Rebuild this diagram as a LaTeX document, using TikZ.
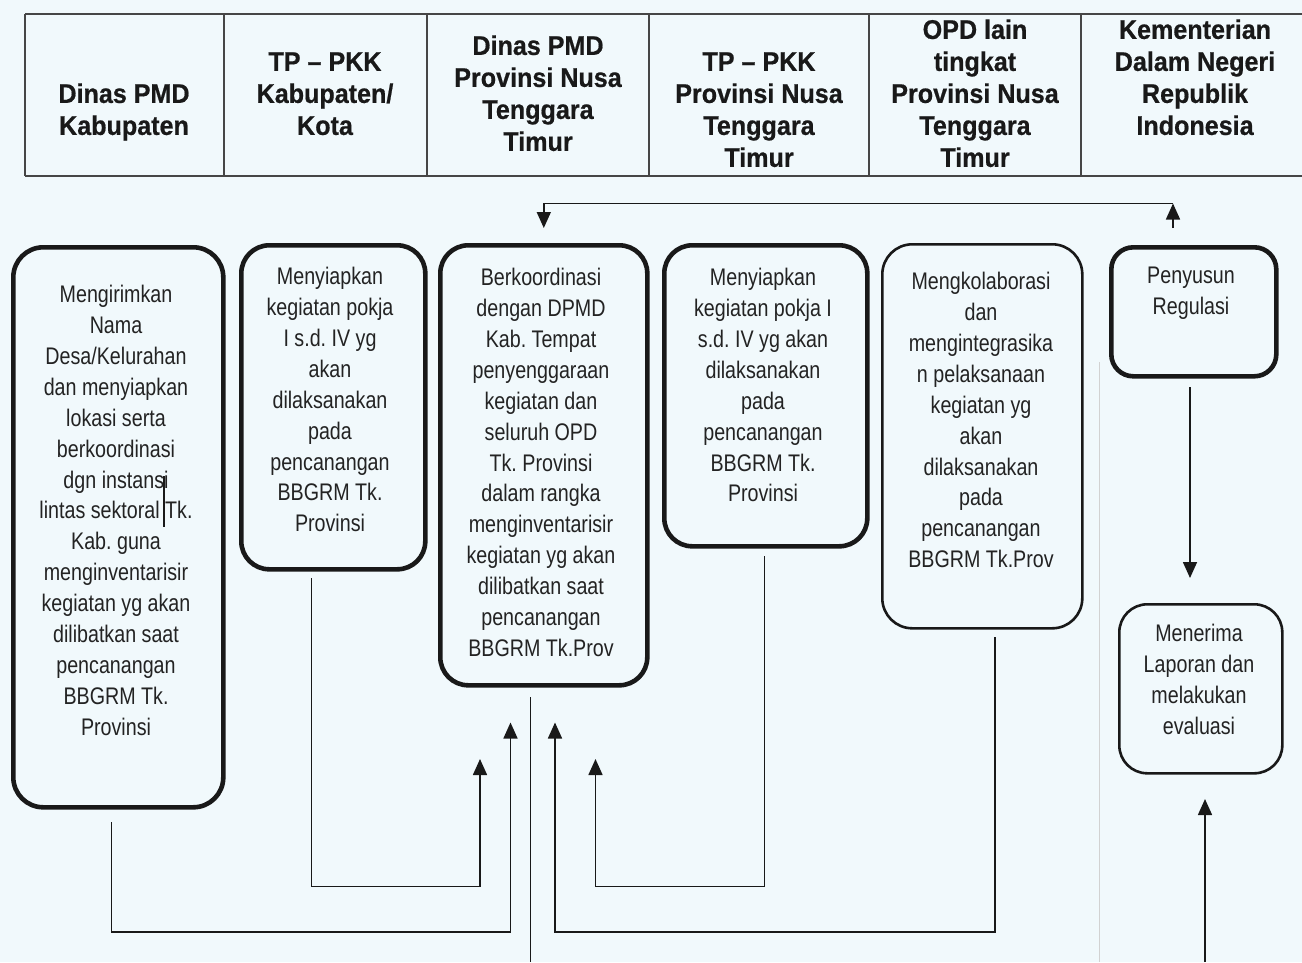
\documentclass[tikz,border=0pt]{standalone}
\usepackage{fontspec}
\usetikzlibrary{arrows.meta}
\newfontfamily\hdrfont[FakeStretch=0.93,FakeBold=0.6]{Liberation Sans}
\newfontfamily\bodyfont[FakeStretch=0.82]{Liberation Sans}
\definecolor{bg}{RGB}{241,249,252}
\definecolor{ink}{RGB}{25,25,25}
\definecolor{txt}{RGB}{35,35,35}
\definecolor{rule}{RGB}{70,70,70}
\frenchspacing
\begin{document}
\frenchspacing
\begin{tikzpicture}[x=1pt,y=-1pt,
  hdr/.style={font=\hdrfont\bfseries\fontsize{27}{32}\selectfont, text=ink, align=center, anchor=north, inner sep=0pt},
  body/.style={font=\bodyfont\fontsize{24}{30.9}\selectfont, text=txt, align=center, anchor=north, inner sep=0pt},
  box/.style={draw=ink, line width=4.6pt, rounded corners=28pt, anchor=north west, inner sep=0pt},
  thinbox/.style={box, line width=2.6pt},
  hline/.style={draw=rule, line width=1.3pt},
  conn/.style={draw=ink, line width=1.6pt},
  tip/.style={-{Triangle[length=16pt,width=14pt]}}]
\useasboundingbox[fill=bg] (0,0) rectangle (1302,962);
% header table
\draw[hline] (25,14) -- (1302,14);
\draw[hline] (25,176) -- (1302,176);
\foreach \x in {25,224,427,649,869,1081} \draw[hline] (\x,14) -- (\x,176);
\node[hdr] (h1) at (124,80.3) {\strut Dinas PMD\\Kabupaten};
\node[hdr] (h2) at (325,48.3) {\strut TP – PKK\\Kabupaten/\\Kota};
\node[hdr] (h3) at (538,32.3) {\strut Dinas PMD\\Provinsi Nusa\\Tenggara\\Timur};
\node[hdr] (h4) at (759,48.3) {\strut TP – PKK\\Provinsi Nusa\\Tenggara\\Timur};
\node[hdr] (h5) at (975,16.3) {\strut OPD lain\\tingkat\\Provinsi Nusa\\Tenggara\\Timur};
\node[hdr] (h6) at (1195,16.3) {\strut Kementerian\\Dalam Negeri\\Republik\\Indonesia};
% boxes
\node[box, minimum width=210pt, minimum height=560pt, rounded corners=30pt] (b1) at (11,245) {};
\node[box, minimum width=184pt, minimum height=324pt] (b2) at (239,243) {};
\node[box, minimum width=207pt, minimum height=440pt] (b3) at (438,243) {};
\node[box, minimum width=203pt, minimum height=301pt] (b4) at (662,243) {};
\node[thinbox, minimum width=200pt, minimum height=384pt, rounded corners=30pt] (b5) at (881,243) {};
\node[box, minimum width=165pt, minimum height=129pt, rounded corners=22pt] (b6) at (1109,245) {};
\node[thinbox, minimum width=163pt, minimum height=169pt] (b7) at (1118,603) {};
% texts
\node[body] (t1) at (116,280.8) {\strut Mengirimkan\\Nama\\Desa/Kelurahan\\dan menyiapkan\\lokasi serta\\berkoordinasi\\dgn instansi\\lintas sektoral Tk.\\Kab. guna\\menginventarisir\\kegiatan yg akan\\dilibatkan saat\\pencanangan\\BBGRM Tk.\\Provinsi};
\node[body] (t2) at (330,262.8) {\strut Menyiapkan\\kegiatan pokja\\I s.d. IV yg\\akan\\dilaksanakan\\pada\\pencanangan\\BBGRM Tk.\\Provinsi};
\node[body] (t3) at (541,263.8) {\strut Berkoordinasi\\dengan DPMD\\Kab. Tempat\\penyenggaraan\\kegiatan dan\\seluruh OPD\\Tk. Provinsi\\dalam rangka\\menginventarisir\\kegiatan yg akan\\dilibatkan saat\\pencanangan\\BBGRM Tk.Prov};
\node[body] (t4) at (763,263.8) {\strut Menyiapkan\\kegiatan pokja I\\s.d. IV yg akan\\dilaksanakan\\pada\\pencanangan\\BBGRM Tk.\\Provinsi};
\node[body] (t5) at (981,267.8) {\strut Mengkolaborasi\\dan\\mengintegrasika\\n pelaksanaan\\kegiatan yg\\akan\\dilaksanakan\\pada\\pencanangan\\BBGRM Tk.Prov};
\node[body] (t6) at (1191,261.8) {\strut Penyusun\\Regulasi};
\node[body] (t7) at (1199,619.8) {\strut Menerima\\Laporan dan\\melakukan\\evaluasi};
% stray marks
\draw[draw=ink, line width=1.3pt] (164,476) -- (164,527);
\draw[draw=gray!35, line width=1pt] (1099,362) -- (1099,962);
% top connector
\coordinate (r0) at (1173,228);
\coordinate (r1) at (1173,203.5);
\draw[conn, tip] (r0) -- (r1);
\draw[conn, tip, shorten >=15pt] (r1) -| (b3.north);
% bottom connectors
\coordinate (p1) at (111.5,822);
\coordinate (q1) at (510.5,722.5);
\draw[conn, tip] (p1) -- (111.5,932) -- (510.5,932) -- (q1);
\coordinate (p2) at (311.5,578);
\coordinate (q2) at (480,759);
\draw[conn, tip] (p2) -- (311.5,886.5) -- (480,886.5) -- (q2);
\coordinate (c0) at (530.5,697);
\coordinate (c1) at (530.5,962);
\draw[conn] (c0) -- (c1);
\coordinate (p4) at (764.5,556);
\coordinate (q4) at (595.5,759);
\draw[conn, tip] (p4) -- (764.5,886.5) -- (595.5,886.5) -- (q4);
\coordinate (p5) at (995,637);
\coordinate (q5) at (555,722.5);
\draw[conn, tip] (p5) -- (995,932) -- (555,932) -- (q5);
\coordinate (p6) at (1190,387);
\coordinate (q6) at (1190,578);
\draw[conn, tip] (p6) -- (q6);
\coordinate (p7) at (1205,962);
\coordinate (q7) at (1205,799);
\draw[conn, tip] (p7) -- (q7);
\end{tikzpicture}
\end{document}
